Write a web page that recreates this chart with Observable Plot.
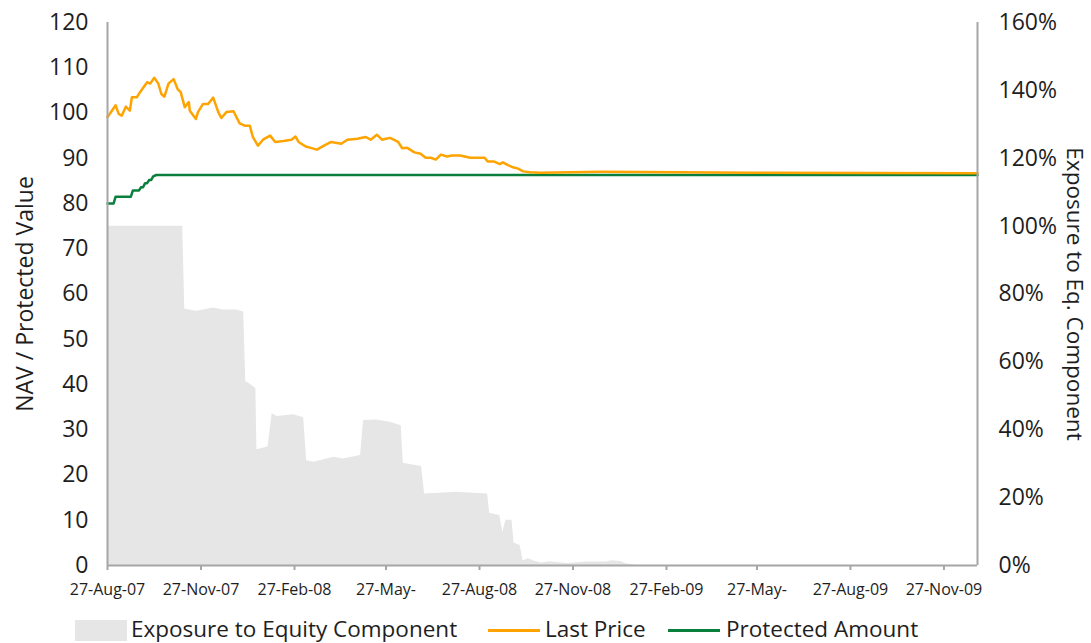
<!DOCTYPE html>
<html>
<head>
<meta charset="utf-8">
<script src="https://cdn.jsdelivr.net/npm/d3@7"></script>
<script src="https://cdn.jsdelivr.net/npm/@observablehq/plot@0.6"></script>
<style>
  html, body { margin: 0; padding: 0; background: #fff; }
  body { font-family: "Open Sans", sans-serif; color: #222; width: 1091px; }
  #legend { position: relative; width: 1091px; height: 38px; font-size: 22.5px; }
  #legend .sw { position: absolute; }
  #legend .tx { position: absolute; top: 9px; line-height: 30px; white-space: nowrap; }
</style>
</head>
<body>
<div id="chart"></div>
<div id="legend"></div>
<script>
// ---------- data ----------
const xDomain = ["2007-08-27", "2009-12-30"];

const xTickDates = ["2007-08-27", "2007-11-27", "2008-02-27", "2008-05-27", "2008-08-27",
                    "2008-11-27", "2009-02-27", "2009-05-27", "2009-08-27", "2009-11-27"];
const xTickLabels = ["27-Aug-07", "27-Nov-07", "27-Feb-08", "27-May-", "27-Aug-08",
                     "27-Nov-08", "27-Feb-09", "27-May-", "27-Aug-09", "27-Nov-09"];

const leftTicks = [0, 10, 20, 30, 40, 50, 60, 70, 80, 90, 100, 110, 120];
const rightTicks = [0, 20, 40, 60, 80, 100, 120, 140, 160]; // percent

// Last Price (NAV)
const lastPrice = [
  ["2007-08-27", 99.1], ["2007-08-28", 99.4], ["2007-09-04", 101.7], ["2007-09-07", 99.8],
  ["2007-09-10", 99.4], ["2007-09-14", 101.4], ["2007-09-18", 100.5], ["2007-09-20", 103.5],
  ["2007-09-25", 103.5], ["2007-09-28", 104.6], ["2007-10-05", 106.8], ["2007-10-08", 106.5],
  ["2007-10-12", 107.8], ["2007-10-16", 106.5], ["2007-10-19", 104.2], ["2007-10-22", 103.6],
  ["2007-10-26", 106.5], ["2007-10-31", 107.5], ["2007-11-04", 105.3], ["2007-11-07", 104.6],
  ["2007-11-11", 101.3], ["2007-11-15", 102.4], ["2007-11-16", 100.5], ["2007-11-22", 98.7],
  ["2007-11-24", 100.2], ["2007-11-29", 102.0], ["2007-12-04", 102.0], ["2007-12-09", 103.4],
  ["2007-12-14", 100.2], ["2007-12-17", 98.9], ["2007-12-22", 100.2], ["2007-12-29", 100.4],
  ["2008-01-04", 97.7], ["2008-01-09", 97.2], ["2008-01-14", 97.2], ["2008-01-17", 94.7],
  ["2008-01-22", 92.8], ["2008-01-27", 94.1], ["2008-02-03", 95.0], ["2008-02-08", 93.6],
  ["2008-02-16", 93.8], ["2008-02-24", 94.1], ["2008-02-28", 94.8], ["2008-03-02", 93.6],
  ["2008-03-09", 92.6], ["2008-03-14", 92.3], ["2008-03-20", 91.9], ["2008-03-27", 92.8],
  ["2008-04-03", 93.6], ["2008-04-13", 93.2], ["2008-04-19", 94.1], ["2008-04-29", 94.3],
  ["2008-05-07", 94.7], ["2008-05-12", 94.1], ["2008-05-18", 95.2], ["2008-05-23", 94.1],
  ["2008-05-27", 94.3], ["2008-05-31", 94.5], ["2008-06-08", 93.6], ["2008-06-12", 92.2],
  ["2008-06-17", 92.3], ["2008-06-24", 91.3], ["2008-06-30", 91.0], ["2008-07-05", 90.1],
  ["2008-07-10", 90.1], ["2008-07-15", 89.7], ["2008-07-20", 90.8], ["2008-07-26", 90.4],
  ["2008-07-31", 90.6], ["2008-08-08", 90.6], ["2008-08-18", 90.1], ["2008-08-28", 90.1],
  ["2008-09-01", 90.1], ["2008-09-04", 89.3], ["2008-09-10", 89.3], ["2008-09-16", 88.7],
  ["2008-09-19", 89.1], ["2008-09-24", 88.5], ["2008-09-29", 88.0], ["2008-10-04", 87.7],
  ["2008-10-09", 87.1], ["2008-10-16", 86.9], ["2008-10-26", 86.8], ["2008-12-24", 87.0],
  ["2009-03-12", 86.9], ["2009-05-20", 86.8], ["2009-12-30", 86.7]
];

// Protected Amount
const protectedAmount = [
  ["2007-08-27", 80.0], ["2007-09-02", 80.0], ["2007-09-04", 81.5], ["2007-09-19", 81.5],
  ["2007-09-21", 82.9], ["2007-09-27", 82.9], ["2007-09-29", 83.6], ["2007-10-01", 83.6],
  ["2007-10-03", 84.5], ["2007-10-05", 84.5], ["2007-10-07", 85.2], ["2007-10-09", 85.2],
  ["2007-10-11", 86.0], ["2007-10-14", 86.3], ["2009-12-30", 86.3]
];

// Exposure to Equity Component (%)
const exposure = [
  ["2007-08-27", 100], ["2007-11-09", 100], ["2007-11-11", 75.6], ["2007-11-16", 75.3],
  ["2007-11-23", 74.9], ["2007-12-09", 75.9], ["2007-12-19", 75.3], ["2008-01-01", 75.3],
  ["2008-01-08", 74.7], ["2008-01-10", 54.2], ["2008-01-14", 53.5], ["2008-01-20", 52.1],
  ["2008-01-21", 34.1], ["2008-01-30", 34.8], ["2008-02-01", 35.0], ["2008-02-05", 44.7],
  ["2008-02-10", 43.9], ["2008-02-26", 44.4], ["2008-03-07", 43.5], ["2008-03-10", 30.9],
  ["2008-03-17", 30.4], ["2008-04-06", 31.9], ["2008-04-15", 31.4], ["2008-05-02", 32.4],
  ["2008-05-05", 42.7], ["2008-05-18", 42.9], ["2008-05-31", 42.2], ["2008-06-11", 41.2],
  ["2008-06-13", 30.1], ["2008-07-01", 29.2], ["2008-07-04", 21.1], ["2008-08-05", 21.6],
  ["2008-09-04", 21.1], ["2008-09-06", 15.4], ["2008-09-16", 14.7], ["2008-09-19", 9.8],
  ["2008-09-22", 13.3], ["2008-09-28", 13.3], ["2008-09-30", 6.6], ["2008-10-06", 5.9],
  ["2008-10-09", 1.3], ["2008-10-14", 2.0], ["2008-10-21", 1.2], ["2008-10-27", 0.7],
  ["2008-11-04", 1.1], ["2008-11-21", 0.6], ["2008-12-10", 1.0], ["2008-12-30", 1.0],
  ["2009-01-04", 1.4], ["2009-01-13", 1.2], ["2009-01-18", 0.5], ["2009-01-30", 0],
  ["2009-12-30", 0]
];

// right axis: 160% corresponds to 120 on the left axis
const pctToLeft = 120 / 160;

// ---------- build ----------
const parse = d3.utcParse("%Y-%m-%d");
const toRows = arr => arr.map(([d, v]) => ({date: parse(d), value: v}));
const priceRows = toRows(lastPrice);
const protRows = toRows(protectedAmount);
const expRows = toRows(exposure);
const tickDates = xTickDates.map(parse);
const labelMap = new Map(tickDates.map((d, i) => [+d, xTickLabels[i]]));
const domain = xDomain.map(parse);

const axisGray = "#a6a6a6";
const textCol = "#1e1e1e";

const chart = Plot.plot({
  width: 1091,
  height: 605,
  marginLeft: 107,
  marginRight: 114,
  marginTop: 22,
  marginBottom: 40,
  style: {fontFamily: "'Open Sans', sans-serif", background: "#fff", color: textCol, overflow: "visible"},
  x: {type: "utc", domain: domain},
  y: {domain: [0, 120]},
  marks: [
    Plot.areaY(expRows, {x: "date", y: d => d.value * pctToLeft, fill: "#e6e6e6"}),
    Plot.lineY(protRows, {x: "date", y: "value", stroke: "#0a7f3c", strokeWidth: 2.5}),
    Plot.lineY(priceRows, {x: "date", y: "value", stroke: "#ffa300", strokeWidth: 2.5}),
    Plot.ruleY([0], {stroke: axisGray, strokeWidth: 2}),
    Plot.ruleX(domain, {y1: 0, y2: 120, stroke: axisGray, strokeWidth: 2}),
    Plot.axisX({ticks: tickDates, tickFormat: d => labelMap.get(+d), tickSize: 5, tickPadding: 13,
                fontSize: 16, stroke: axisGray, strokeWidth: 2, fill: textCol, label: null}),
    Plot.axisY({ticks: leftTicks, tickSize: 0, tickPadding: 19, fontSize: 23, fill: textCol, label: null}),
    Plot.axisY({anchor: "right", ticks: rightTicks.map(p => p * pctToLeft), tickFormat: d => Math.round(d / pctToLeft) + "%",
                tickSize: 0, tickPadding: 21, fontSize: 23, fill: textCol, label: null}),
    Plot.text(["NAV / Protected Value"], {frameAnchor: "left", dx: -75, rotate: -90, fontSize: 23,
                textAnchor: "middle", lineAnchor: "bottom", fill: textCol}),
    Plot.text(["Exposure to Eq. Component"], {frameAnchor: "right", dx: 89, rotate: 90, fontSize: 22.5,
                textAnchor: "middle", lineAnchor: "bottom", fill: textCol})
  ]
});
document.getElementById("chart").appendChild(chart);

// legend
const legendItems = [
  {label: "Exposure to Equity Component", kind: "box", color: "#e6e6e6", sx: 75, sw: 52, tx: 131},
  {label: "Last Price", kind: "line", color: "#ffa300", sx: 488, sw: 52, tx: 545},
  {label: "Protected Amount", kind: "line", color: "#0a7f3c", sx: 668, sw: 52, tx: 726}
];
const legend = d3.select("#legend");
for (const it of legendItems) {
  legend.append("div").attr("class", "sw")
    .style("left", it.sx + "px").style("width", it.sw + "px")
    .style("top", it.kind === "box" ? "15px" : "24px")
    .style("height", it.kind === "box" ? "21px" : "2.5px")
    .style("background", it.color);
  legend.append("div").attr("class", "tx").style("left", it.tx + "px").style("color", textCol).text(it.label);
}
</script>
</body>
</html>
